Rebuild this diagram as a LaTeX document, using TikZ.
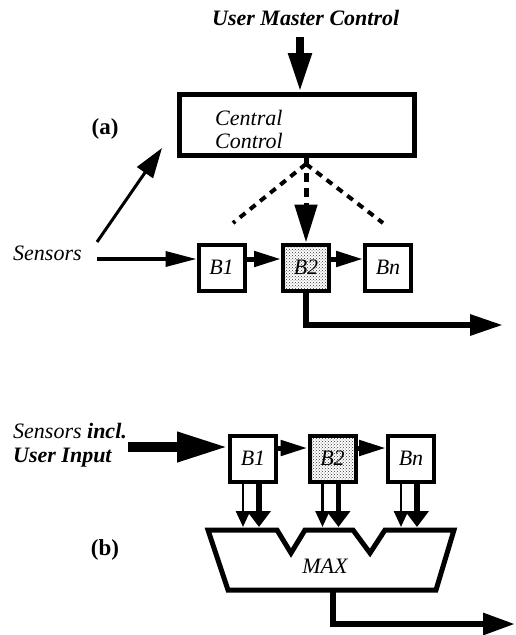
\documentclass[tikz,border=0pt]{standalone}
\usepackage{fontspec}
\setmainfont{Liberation Serif}
\usetikzlibrary{arrows.meta,patterns,calc}
\begin{document}
\begin{tikzpicture}[x=1pt,y=-1pt,
  bbox/.style={draw,line width=4pt,minimum width=46pt,minimum height=46pt,inner sep=0pt,font=\fontsize{22}{24}\selectfont\itshape},
  dotbox/.style={bbox,pattern=crosshatch dots,pattern color=black!80},
  txt/.style={inner sep=0pt,anchor=base west},
  fit/.style={font=\fontsize{22}{24}\selectfont\itshape},
  fbi/.style={font=\fontsize{22}{24}\selectfont\bfseries\itshape},
  lab/.style={font=\fontsize{23}{25}\selectfont\bfseries},
  arr/.style args={#1/#2}{-{Triangle[length=#1pt,width=#2pt]}}
]
\useasboundingbox (0,0) rectangle (515,635);

% ---------- (a) ----------
\node[txt,fbi] (umc) at (212,25) {User Master Control};
\node[draw,line width=5pt,minimum width=235pt,minimum height=61pt,inner sep=0pt] (cc) at (297,125) {};
\node[txt,fit] (cc1) at (215,125) {Central};
\node[txt,fit] (cc2) at (215,148) {Control};
\node[lab] (la) at (105,129) {(a)};

\coordinate (t0) at (300,37);
\draw[line width=8pt,arr=39/22] (t0) -- (t0 |- cc.north);

\node[bbox] (a1) at (221.5,267.5) {B1};
\node[dotbox] (a2) at (306,267.5) {B2};
\node[bbox] (an) at (388,267.5) {Bn};

\node[txt,fit] (sa) at (13,260) {Sensors};
\coordinate (s0) at (97,259);
\draw[line width=3.5pt,arr=31/15] (s0) -- ([yshift=8.5pt]a1.west);
\coordinate (d0) at (97,242);
\coordinate (d1) at (162,148);
\draw[line width=3pt,arr=30/19] (d0) -- (d1);

\draw[line width=5pt,arr=27/15] ([yshift=8.5pt]a1.east) -- ([yshift=8.5pt]a2.west);
\draw[line width=5pt,arr=27/15] ([yshift=8.5pt]a2.east) -- ([yshift=8.5pt]an.west);

\coordinate (apex) at (306,164);
\coordinate (dl) at (233,223);
\coordinate (dr) at (383,223);
\draw[line width=4pt,dash pattern=on 7pt off 6pt] (apex) -- (dl);
\draw[line width=4pt,dash pattern=on 7pt off 6pt] (apex) -- (dr);
\draw[line width=5pt,dash pattern=on 9pt off 6pt,arr=38/22] (cc.south -| a2.north) -- (a2.north);

\coordinate (oa) at (503,325);
\draw[line width=6pt,arr=33/20] (a2.south) |- (oa);

% ---------- (b) ----------
\node[txt] (sb) at (13,438) {\fontsize{22}{24}\selectfont\itshape Sensors \bfseries incl.};
\node[txt,fbi] (ui) at (13,462) {User Input};
\node[lab] (lb) at (105,550) {(b)};

\node[bbox] (b1) at (253,458.5) {B1};
\node[dotbox] (b2) at (332.5,458.5) {B2};
\node[bbox] (bn) at (411,458.5) {Bn};

\coordinate (bs) at (128,447);
\draw[line width=10pt,arr=51/28] (bs) -- ([yshift=11.5pt]b1.west);
\draw[line width=5pt,arr=27/15] ([yshift=10.5pt]b1.east) -- ([yshift=10.5pt]b2.west);
\draw[line width=5pt,arr=27/15] ([yshift=10.5pt]b2.east) -- ([yshift=10.5pt]bn.west);

\coordinate (mtop) at (0,527);
\foreach \b in {b1,b2,bn}{
  \draw[line width=2.5pt,arr=16/14] ([xshift=-10pt]\b.south) -- ([xshift=-10pt]\b.south |- mtop);
  \draw[line width=5.5pt,arr=16/23] ([xshift=6pt]\b.south) -- ([xshift=6pt]\b.south |- mtop);
}

\draw[line width=5pt,line join=miter] (208,530) -- (277,530) -- (291,553) -- (305,530) -- (353,530) -- (370,553) -- (385,530) -- (454,530) -- (436,590) -- (228,590) -- cycle;
\node[inner sep=0pt,anchor=base,fit] (max) at (325,573) {MAX};

\coordinate (mo) at (333,590);
\coordinate (ob) at (515,624);
\draw[line width=6pt,arr=32/21] (mo) |- (ob);
\end{tikzpicture}
\end{document}
